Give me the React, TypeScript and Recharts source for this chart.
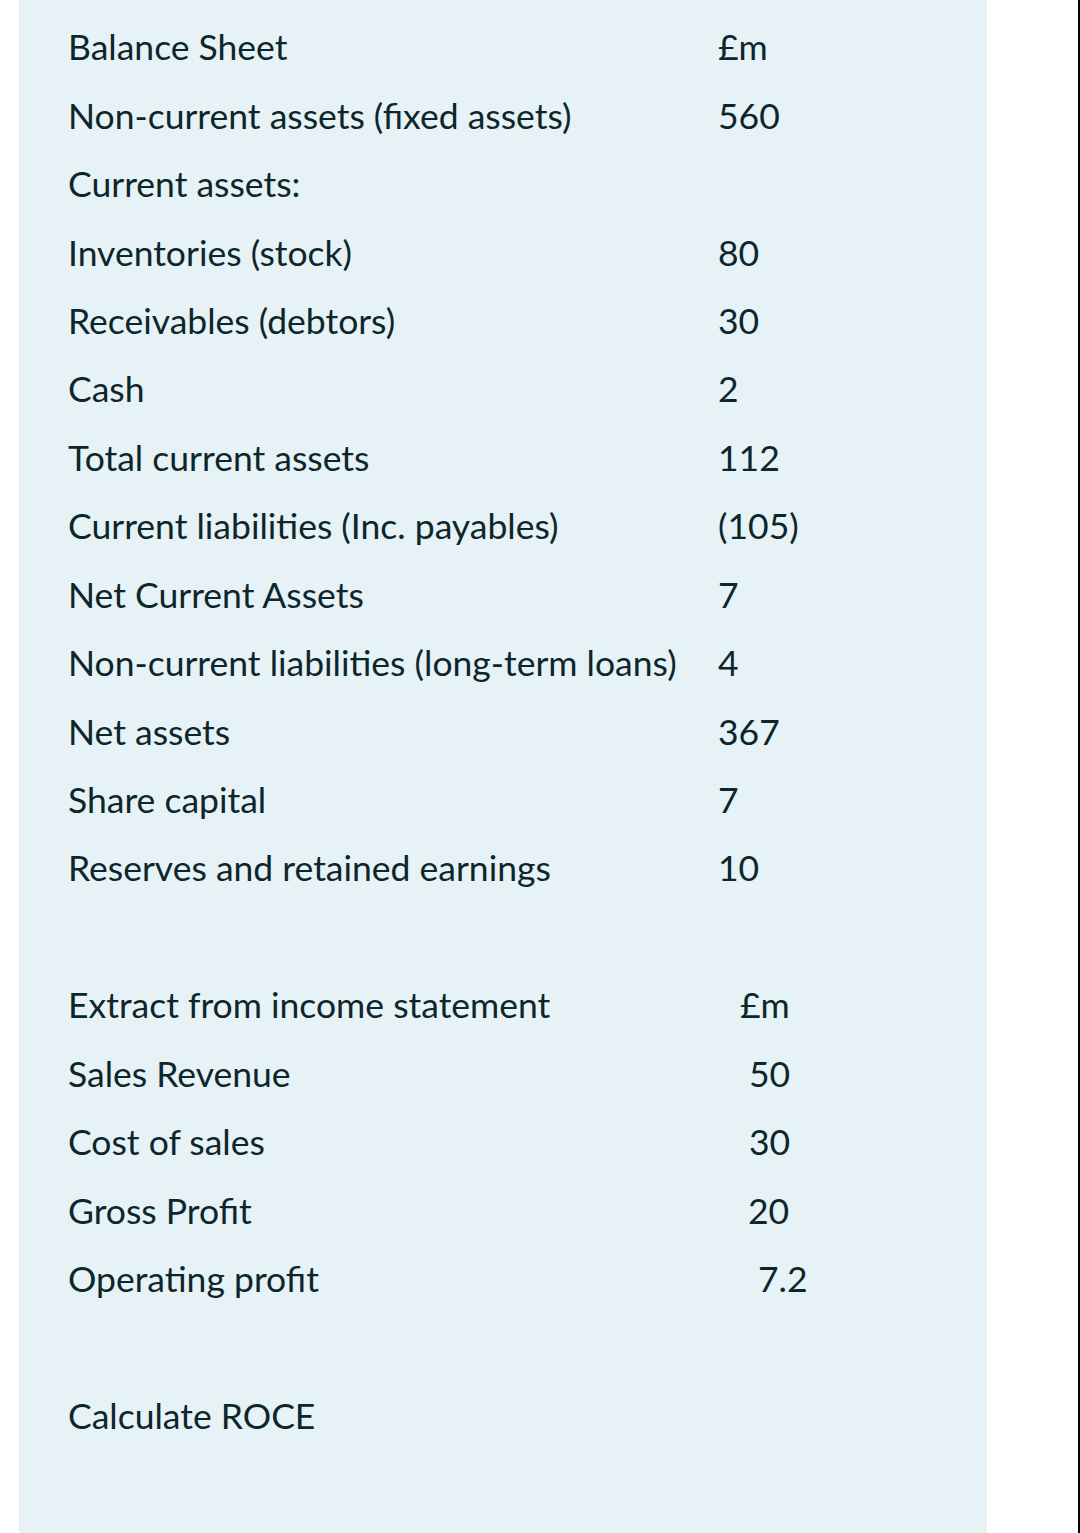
import React from 'react';
import { BarChart, Bar, XAxis, YAxis } from 'recharts';

// rows of the sheet, blank strings are spacer rows
const labels = [
  'Balance Sheet',
  'Non-current assets (fixed assets)',
  'Current assets:',
  'Inventories (stock)',
  'Receivables (debtors)',
  'Cash',
  'Total current assets',
  'Current liabilities (Inc. payables)',
  'Net Current Assets',
  'Non-current liabilities (long-term loans)',
  'Net assets',
  'Share capital',
  'Reserves and retained earnings',
  '',
  'Extract from income statement',
  'Sales Revenue',
  'Cost of sales',
  'Gross Profit',
  'Operating profit',
  '',
  'Calculate ROCE',
];

const amounts = [
  '£m', '560', '', '80', '30', '2', '112', '(105)', '7', '4', '367', '7', '10',
  '',
  '£m', '50', '30', '20', '7.2',
  '',
  '',
];

// column offsets (chart coords)
const LABEL_X = 49;
const VALUE_X = 699;
const valueIndent: Record<number, number> = { 14: 22, 15: 31, 16: 31, 17: 30, 18: 40 };

const TEXT = '#0d262b';
const PANEL = '#e6f2f5';
const FONT_SIZE = 35.5;

const rows = labels.map((label, i) => ({ row: `r${i}`, label, amount: amounts[i] }));

const renderRow = (props: any) => {
  const { y, payload } = props;
  const i = Number(String(payload.value).slice(1));
  return (
    <g>
      <text x={LABEL_X} y={y} dy={12} fill={TEXT} fontSize={FONT_SIZE} fontFamily="Lato" textAnchor="start">
        {labels[i]}
      </text>
      <text x={VALUE_X + (valueIndent[i] || 0)} y={y} dy={12} fill={TEXT} fontSize={FONT_SIZE} fontFamily="Lato" textAnchor="start">
        {amounts[i]}
      </text>
    </g>
  );
};

export default function App() {
  return (
    <div style={{ position: 'absolute', left: 0, top: 0, width: 1080, height: 1533, background: '#fff' }}>
      <div style={{ position: 'absolute', left: 19, top: 0, width: 968, height: 1533, background: PANEL }}>
        <BarChart
          width={968}
          height={1533}
          data={rows}
          layout="vertical"
          margin={{ top: 14, right: 0, bottom: 82, left: 0 }}
        >
          <XAxis type="number" domain={[0, 1]} hide />
          <YAxis
            type="category"
            dataKey="row"
            width={1}
            axisLine={false}
            tickLine={false}
            tick={renderRow}
            interval={0}
          />
          <Bar dataKey="none" fill="transparent" isAnimationActive={false} />
        </BarChart>
      </div>
      <div style={{ position: 'absolute', left: 1078, top: 0, width: 2, height: 1533, background: '#000' }} />
    </div>
  );
}
